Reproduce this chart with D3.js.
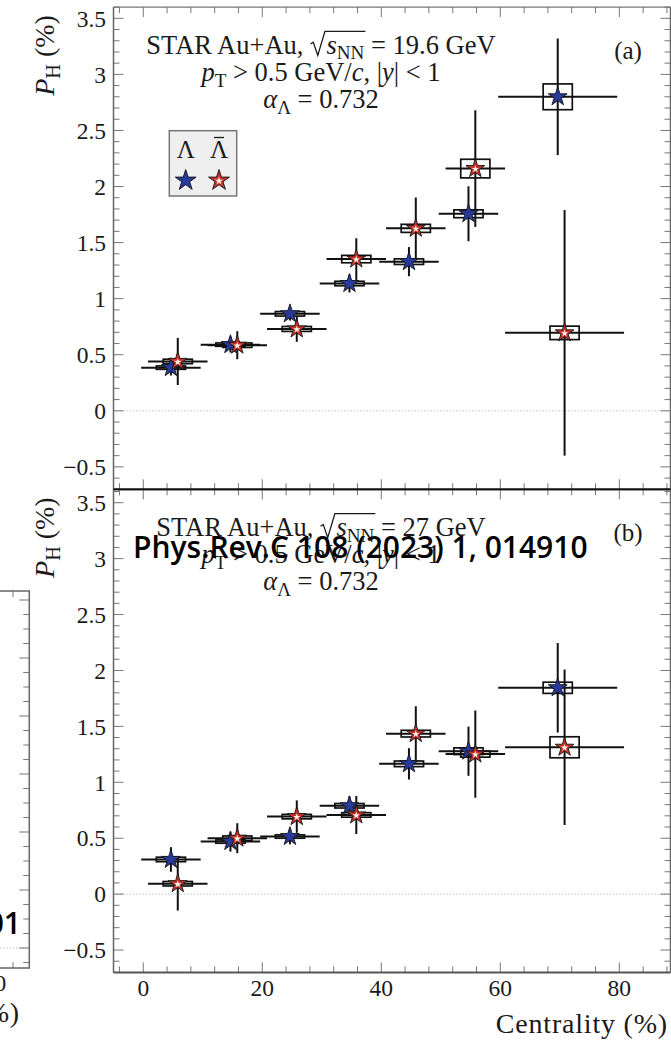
<!DOCTYPE html>
<html><head><meta charset="utf-8">
<script src="https://cdn.jsdelivr.net/npm/d3@7"></script>
<style>body{margin:0;background:#fff} svg{display:block}</style>
</head><body>
<svg id="chart" width="671" height="1043"></svg>
<script>
// ---------- data ----------
const binCenters = [5, 15, 25, 35, 45, 55, 70];
const binHalfWidths = [5, 5, 5, 5, 5, 5, 10];
// panel (a): 19.6 GeV
const lamA      = [0.385, 0.59, 0.865, 1.135, 1.33, 1.757, 2.80];
const lamStatA  = [0.07, 0.07, 0.06, 0.08, 0.13, 0.245, 0.52];
const lamSysA   = [0.015, 0.015, 0.02, 0.02, 0.025, 0.035, 0.115];
const alamA     = [0.44, 0.585, 0.73, 1.353, 1.627, 2.16, 0.695];
const alamStatA = [0.21, 0.125, 0.115, 0.186, 0.275, 0.52, 1.095];
const alamSysA  = [0.02, 0.02, 0.022, 0.033, 0.036, 0.083, 0.06];
// panel (b): 27 GeV
const lamB      = [0.31, 0.47, 0.515, 0.79, 1.165, 1.278, 1.845];
const lamStatB  = [0.11, 0.09, 0.07, 0.085, 0.14, 0.22, 0.40];
const lamSysB   = [0.02, 0.015, 0.015, 0.02, 0.025, 0.03, 0.05];
const alamB     = [0.093, 0.50, 0.693, 0.708, 1.435, 1.252, 1.313];
const alamStatB = [0.24, 0.134, 0.145, 0.17, 0.245, 0.39, 0.695];
const alamSysB  = [0.02, 0.02, 0.02, 0.02, 0.03, 0.027, 0.094];
const yTickValues = [-0.5, 0, 0.5, 1, 1.5, 2, 2.5, 3, 3.5];
const yTickLabels = ["\u22120.5", "0", "0.5", "1", "1.5", "2", "2.5", "3", "3.5"];
const xTickValues = [0, 20, 40, 60, 80];
const xTickLabels = ["0", "20", "40", "60", "80"];
const energiesText = ["19.6", "27"];
const panelTags = ["(a)", "(b)"];
const watermark = "Phys.Rev.C 108 (2023) 1, 014910";

// ---------- setup ----------
const FONT = "'Liberation Serif','Times New Roman',serif";
const svg = d3.select("#chart");
const x = d3.scaleLinear().domain([-5, 88.6]).range([113.5, 670.5]);
const yA = d3.scaleLinear().domain([-0.7, 3.6]).range([489.3, 7.1]);
const yB = d3.scaleLinear().domain([-0.7, 3.62]).range([972.4, 489.3]);
const LAM_OFF = -0.35, ALAM_OFF = 0.8, BOX_HW = 2.45;
const BLUE = "#27399a", RED = "#c5322a";
const ANN = 26.5;

function richText(g, px, py, parts, size, anchor, transform) {
  const t = g.append("text").attr("x", px).attr("y", py)
    .attr("font-family", FONT).attr("font-size", size)
    .attr("text-anchor", anchor || "start").attr("fill", "#1a1a1a");
  if (transform) t.attr("transform", transform);
  let shift = 0;
  const nodes = {};
  parts.forEach(p => {
    const ts = t.append("tspan").text(p.t);
    let dy;
    if (p.sub) { ts.attr("font-size", size * 0.72); dy = size * 0.22 - shift; shift = size * 0.22; }
    else { dy = -shift; shift = 0; }
    if (dy) ts.attr("dy", dy);
    if (p.it) ts.attr("font-style", "italic");
    if (p.dx) ts.attr("dx", p.dx * size);
    if (p.mark) nodes[p.mark] = ts.node();
  });
  return nodes;
}

function drawPanel(y, d, energy, tag, isTop) {
  const g = svg.append("g");
  const x0 = x.range()[0], x1 = x.range()[1];
  const yBot = y.range()[0], yTop = y.range()[1];

  // zero line
  g.append("line").attr("x1", x0).attr("x2", x1).attr("y1", y(0)).attr("y2", y(0))
    .attr("stroke", "#b5b5b5").attr("stroke-width", 1).attr("stroke-dasharray", "1.2,2");

  // y ticks (left and right)
  const kMax = Math.floor(y.domain()[1] * 10 + 1e-6);
  const yt = d3.range(-7, kMax + 1).map(k => ({ v: k / 10, major: k % 5 === 0 }));
  g.selectAll(".ytl").data(yt).join("line")
    .attr("x1", x0).attr("x2", t => x0 + (t.major ? 10 : 6))
    .attr("y1", t => y(t.v)).attr("y2", t => y(t.v))
    .attr("stroke", "#777").attr("stroke-width", 1);
  g.selectAll(".ytr").data(yt).join("line")
    .attr("x1", x1).attr("x2", t => x1 - (t.major ? 10 : 6))
    .attr("y1", t => y(t.v)).attr("y2", t => y(t.v))
    .attr("stroke", "#777").attr("stroke-width", 1);
  // x ticks (top and bottom)
  const xt = d3.range(-1, 23).map(k => ({ v: 4 * k, major: (4 * k) % 20 === 0 }));
  g.selectAll(".xtt").data(xt).join("line")
    .attr("x1", t => x(t.v)).attr("x2", t => x(t.v))
    .attr("y1", yTop).attr("y2", t => yTop + (t.major ? 10 : 6))
    .attr("stroke", "#777").attr("stroke-width", 1);
  g.selectAll(".xtb").data(xt).join("line")
    .attr("x1", t => x(t.v)).attr("x2", t => x(t.v))
    .attr("y1", yBot).attr("y2", t => yBot - (t.major ? 10 : 6))
    .attr("stroke", "#777").attr("stroke-width", 1);

  // frame
  g.append("line").attr("x1", x0).attr("x2", x0).attr("y1", yTop).attr("y2", yBot).attr("stroke", "#666").attr("stroke-width", 1.5);
  g.append("line").attr("x1", x1).attr("x2", x1).attr("y1", yTop).attr("y2", yBot).attr("stroke", "#666").attr("stroke-width", 1.5);
  g.append("line").attr("x1", x0).attr("x2", x1).attr("y1", yTop).attr("y2", yTop)
    .attr("stroke", isTop ? "#777" : "#111").attr("stroke-width", isTop ? 1.3 : 1.8);
  g.append("line").attr("x1", x0).attr("x2", x1).attr("y1", yBot).attr("y2", yBot)
    .attr("stroke", isTop ? "#111" : "#555").attr("stroke-width", isTop ? 1.8 : 2);

  // y tick labels
  g.selectAll(".ylab").data(yTickValues).join("text")
    .attr("x", 106).attr("y", v => y(v)).attr("dy", "0.35em")
    .attr("text-anchor", "end").attr("font-family", FONT).attr("font-size", 23.5).attr("fill", "#1a1a1a")
    .text((v, i) => yTickLabels[i]);

  // y title
  richText(g, 0, 0, [{ t: "P", it: true }, { t: "H", sub: true }, { t: " (%)" }], 28, "end",
    `translate(54,${yTop + 8}) rotate(-90)`);

  // data
  const series = [
    { v: d.lam, st: d.lamStat, sy: d.lamSys, off: LAM_OFF, kind: "lam" },
    { v: d.alam, st: d.alamStat, sy: d.alamSys, off: ALAM_OFF, kind: "alam" }
  ];
  const rows = s => s.v.map((v, i) => ({ v, st: s.st[i], sy: s.sy[i], c: binCenters[i] + s.off, hw: binHalfWidths[i] }));
  series.forEach(s => {
    g.selectAll(null).data(rows(s)).join("rect")
      .attr("x", r => x(r.c - BOX_HW)).attr("width", r => x(r.c + BOX_HW) - x(r.c - BOX_HW))
      .attr("y", r => y(r.v + r.sy)).attr("height", r => y(r.v - r.sy) - y(r.v + r.sy))
      .attr("fill", "none").attr("stroke", "#111").attr("stroke-width", 1.7);
  });
  series.forEach(s => {
    const r = rows(s);
    g.selectAll(null).data(r).join("line")
      .attr("x1", q => x(q.c - q.hw)).attr("x2", q => x(q.c + q.hw))
      .attr("y1", q => y(q.v)).attr("y2", q => y(q.v))
      .attr("stroke", "#111").attr("stroke-width", 2);
    g.selectAll(null).data(r).join("line")
      .attr("x1", q => x(q.c)).attr("x2", q => x(q.c))
      .attr("y1", q => y(q.v + q.st)).attr("y2", q => y(q.v - q.st))
      .attr("stroke", "#111").attr("stroke-width", 2);
  });
  const bigStar = d3.symbol(d3.symbolStar, 110)();
  const smallStar = d3.symbol(d3.symbolStar, 16)();
  series.forEach(s => {
    const r = rows(s);
    g.selectAll(null).data(r).join("path")
      .attr("d", bigStar).attr("transform", q => `translate(${x(q.c)},${y(q.v)})`)
      .attr("fill", s.kind === "lam" ? BLUE : RED).attr("stroke", "#141414").attr("stroke-width", 0.9);
    if (s.kind === "alam") {
      g.selectAll(null).data(r).join("path")
        .attr("d", smallStar).attr("transform", q => `translate(${x(q.c)},${y(q.v) + 0.5})`)
        .attr("fill", "#fff7ea");
    }
  });

  // annotation
  const cx = 321, b1 = yTop + 46.5;
  const n = richText(g, cx, b1, [
    { t: "STAR Au+Au, " }, { t: "s", it: true, dx: 0.62, mark: "rs" }, { t: "NN", sub: true, mark: "re" },
    { t: " = " + energy + " GeV" }], ANN, "middle");
  const sx = n.rs.getStartPositionOfChar(0).x;
  const ex = n.re.getEndPositionOfChar(n.re.getNumberOfChars() - 1).x;
  const em = ANN;
  g.append("path").attr("fill", "none").attr("stroke", "#1a1a1a").attr("stroke-width", 1.3)
    .attr("d", `M${sx - 0.6 * em},${b1 - 0.36 * em} L${sx - 0.5 * em},${b1 - 0.43 * em} L${sx - 0.33 * em},${b1 + 0.07 * em} L${sx - 0.06 * em},${b1 - 0.84 * em} L${ex + 1},${b1 - 0.84 * em}`);
  richText(g, cx, yTop + 74, [{ t: "p", it: true }, { t: "T", sub: true }, { t: " > 0.5 GeV/" },
    { t: "c", it: true }, { t: ", |" }, { t: "y", it: true }, { t: "| < 1" }], ANN, "middle");
  richText(g, cx, yTop + 101, [{ t: "\u03b1", it: true }, { t: "\u039b", sub: true }, { t: " = 0.732" }], ANN, "middle");
  g.append("text").attr("x", 628).attr("y", yTop + 52).attr("text-anchor", "middle")
    .attr("font-family", FONT).attr("font-size", 25).attr("fill", "#1a1a1a").text(tag);

  if (isTop) {
    // legend
    const lg = g.append("g");
    lg.append("rect").attr("x", 169.3).attr("y", 130.7).attr("width", 67.4).attr("height", 65.3)
      .attr("fill", "#efefef").attr("stroke", "#777").attr("stroke-width", 1.5);
    lg.append("text").attr("x", 185.7).attr("y", 158).attr("text-anchor", "middle")
      .attr("font-family", FONT).attr("font-size", 25).attr("fill", "#1a1a1a").text("\u039b");
    lg.append("text").attr("x", 219).attr("y", 158).attr("text-anchor", "middle")
      .attr("font-family", FONT).attr("font-size", 25).attr("fill", "#1a1a1a").text("\u039b");
    lg.append("line").attr("x1", 214).attr("x2", 224).attr("y1", 137.5).attr("y2", 137.5)
      .attr("stroke", "#1a1a1a").attr("stroke-width", 1.3);
    const legStar = d3.symbol(d3.symbolStar, 135)();
    lg.append("path").attr("d", legStar).attr("transform", "translate(185.7,180.5)")
      .attr("fill", BLUE).attr("stroke", "#141414").attr("stroke-width", 0.9);
    lg.append("path").attr("d", legStar).attr("transform", "translate(219,180.5)")
      .attr("fill", RED).attr("stroke", "#141414").attr("stroke-width", 0.9);
    lg.append("path").attr("d", d3.symbol(d3.symbolStar, 20)()).attr("transform", "translate(219,181)")
      .attr("fill", "#fff7ea");
  } else {
    g.selectAll(".xlab").data(xTickValues).join("text")
      .attr("x", v => x(v)).attr("y", yBot + 24).attr("text-anchor", "middle")
      .attr("font-family", FONT).attr("font-size", 23.5).attr("fill", "#1a1a1a")
      .text((v, i) => xTickLabels[i]);
    g.append("text").attr("x", 668).attr("y", 1033).attr("text-anchor", "end")
      .attr("font-family", FONT).attr("font-size", 28).attr("letter-spacing", 0.8).attr("fill", "#1a1a1a")
      .text("Centrality (%)");
  }
}

// ---------- partial neighbouring panel at lower left ----------
(function leftPartial() {
  const g = svg.append("g");
  const xr = 29.3, yt = 591, yb = 968, y0 = 948;
  g.append("line").attr("x1", 0).attr("x2", xr).attr("y1", y0).attr("y2", y0)
    .attr("stroke", "#b5b5b5").attr("stroke-dasharray", "1.2,2");
  const ticks = d3.range(-1, 26).map(k => ({ y: y0 - 14.5 * k, major: k % 4 === 0 })).filter(t => t.y > yt + 2 && t.y < yb - 2);
  g.selectAll(null).data(ticks).join("line")
    .attr("x1", xr).attr("x2", t => xr - (t.major ? 10 : 6)).attr("y1", t => t.y).attr("y2", t => t.y)
    .attr("stroke", "#777");
  g.append("line").attr("x1", 13).attr("x2", 13).attr("y1", yb).attr("y2", yb - 6).attr("stroke", "#777");
  g.append("line").attr("x1", 13).attr("x2", 13).attr("y1", yt).attr("y2", yt + 6).attr("stroke", "#777");
  g.append("path").attr("d", `M0,${yt} H${xr} V${yb} H0`).attr("fill", "none").attr("stroke", "#666").attr("stroke-width", 1.5);
  g.append("text").attr("x", -5.5).attr("y", 991).attr("text-anchor", "middle")
    .attr("font-family", FONT).attr("font-size", 23.5).attr("fill", "#1a1a1a").text("80");
  g.append("text").attr("x", 20).attr("y", 1022).attr("text-anchor", "end")
    .attr("font-family", FONT).attr("font-size", 28).attr("letter-spacing", 0.8).attr("fill", "#1a1a1a").text("Centrality (%)");
  g.append("text").attr("x", 21).attr("y", 934).attr("text-anchor", "end")
    .attr("font-family", "'Open Sans','Noto Sans',sans-serif").attr("font-weight", 600)
    .attr("font-size", 30).attr("fill", "#000").text(watermark.slice(-6, -4));
})();

drawPanel(yA, { lam: lamA, lamStat: lamStatA, lamSys: lamSysA, alam: alamA, alamStat: alamStatA, alamSys: alamSysA }, energiesText[0], panelTags[0], true);
drawPanel(yB, { lam: lamB, lamStat: lamStatB, lamSys: lamSysB, alam: alamB, alamStat: alamStatB, alamSys: alamSysB }, energiesText[1], panelTags[1], false);

// watermark
svg.append("text").attr("x", 133).attr("y", 558)
  .attr("font-family", "'Open Sans','Noto Sans',sans-serif").attr("font-weight", 600)
  .attr("font-size", 30).attr("fill", "#000").text(watermark);
</script>
</body></html>
